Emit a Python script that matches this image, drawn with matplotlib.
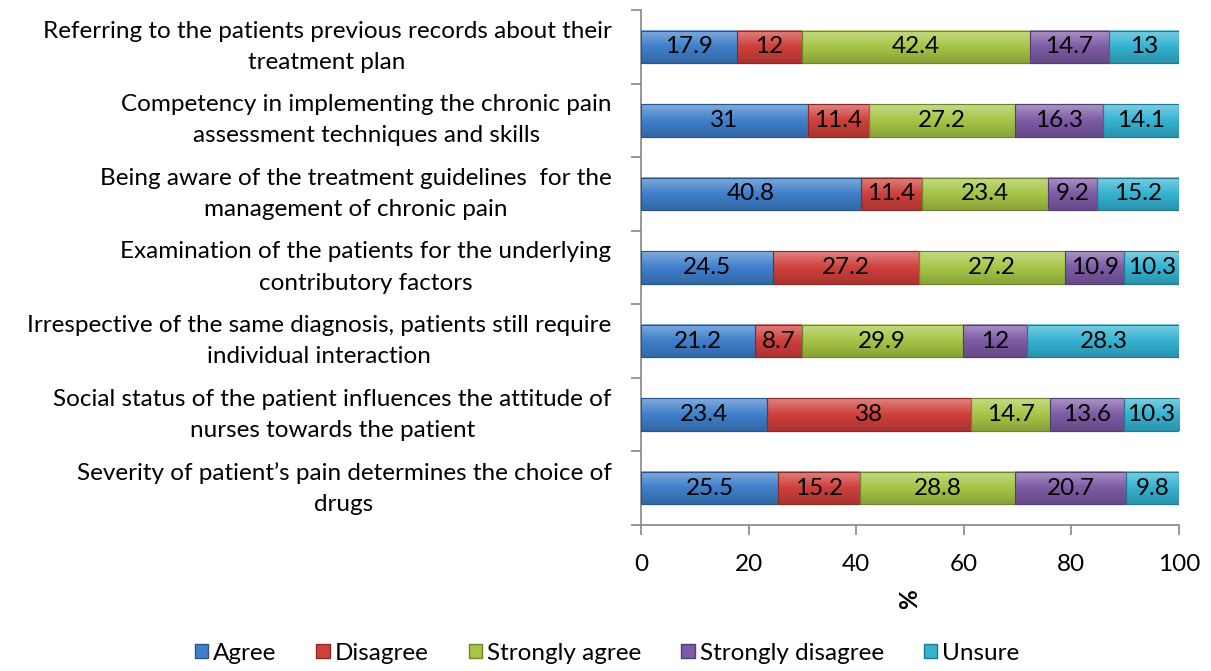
import numpy as np
import matplotlib
matplotlib.use("Agg")
import matplotlib.pyplot as plt
from matplotlib.colors import to_rgb
from matplotlib.patches import Patch

categories = [
    "Referring to the patients previous records about their\ntreatment plan",
    "Competency in implementing the chronic pain\nassessment techniques and skills",
    "Being aware of the treatment guidelines  for the\nmanagement of chronic pain",
    "Examination of the patients for the underlying\ncontributory factors",
    "Irrespective of the same diagnosis, patients still require\nindividual interaction",
    "Social status of the patient influences the attitude of\nnurses towards the patient",
    "Severity of patient\u2019s pain determines the choice of\ndrugs",
]
series_names = ["Agree", "Disagree", "Strongly agree", "Strongly disagree", "Unsure"]
agree = [17.9, 31, 40.8, 24.5, 21.2, 23.4, 25.5]
disagree = [12, 11.4, 11.4, 27.2, 8.7, 38, 15.2]
strongly_agree = [42.4, 27.2, 23.4, 27.2, 29.9, 14.7, 28.8]
strongly_disagree = [14.7, 16.3, 9.2, 10.9, 12, 13.6, 20.7]
unsure = [13, 14.1, 15.2, 10.3, 28.3, 10.3, 9.8]
xticks = [0, 20, 40, 60, 80, 100]

colors = ["#3f7fcb", "#cf403b", "#a6c646", "#7d5ba5", "#35b3d2"]
edges = ["#2a5588", "#8a2a27", "#6f8530", "#543d6f", "#237a8f"]

plt.rcParams['font.family'] = ['Lato', 'DejaVu Sans']
FS = 17.5

fig = plt.figure(figsize=(12.11, 6.71), dpi=100)
ax = fig.add_axes([641/1211, 1-525/671, 538/1211, 515/671])

y = np.arange(len(categories))
left = np.zeros(len(categories))
h = 0.44


def shade(c, f):
    r = np.array(to_rgb(c))
    if f > 0:
        return r + (1 - r) * f
    return r * (1 + f)


for vals, name, c, ec in zip([agree, disagree, strongly_agree, strongly_disagree, unsure],
                             series_names, colors, edges):
    bars = ax.barh(y, vals, left=left, height=h, color=c, edgecolor=ec, linewidth=0.8, zorder=2)
    for rect, v in zip(bars, vals):
        x0, y0 = rect.get_x(), rect.get_y()
        w, hh = rect.get_width(), rect.get_height()
        # vertical gradient for the bevel look
        t = np.linspace(0, 1, 32)
        grad = np.array([shade(c, 0.35 * (1 - 2 * s)) if s < 0.5 else shade(c, -0.18 * (2 * s - 1)) for s in t])
        ax.imshow(grad[:, None, :], extent=[x0, x0 + w, y0 + hh, y0], aspect='auto',
                  interpolation='bilinear', zorder=2.5, origin='upper')
        ax.add_patch(plt.Rectangle((x0, y0), w, hh, fill=False, edgecolor=ec, linewidth=0.8, zorder=3))
        lab = ("%g" % v)
        ax.text(x0 + w / 2, y0 + hh / 2, lab, ha='center', va='center', fontsize=FS, color='black', zorder=4)
    left = left + np.array(vals)

ax.set_xlim(0, 100)
ax.set_ylim(len(categories) - 0.5, -0.5)
ax.set_xticks(xticks)
ax.set_xticklabels([str(t) for t in xticks], fontsize=FS)
ax.set_yticks(np.arange(len(categories) + 1) - 0.5)
ax.set_yticklabels([])
for s in ['top', 'right']:
    ax.spines[s].set_visible(False)
for s in ['left', 'bottom']:
    ax.spines[s].set_color('#868686')
    ax.spines[s].set_linewidth(1.2)
ax.tick_params(axis='both', colors='#868686', length=7, width=1.2, labelcolor='black')
ax.tick_params(axis='x', pad=14)

for i, cat in enumerate(categories):
    ax.text(-5.5, i + 0.0, cat, ha='right', va='center', multialignment='center',
            fontsize=FS, linespacing=1.6)

ax.set_xlabel('%', fontsize=FS, fontweight='bold', rotation=90, labelpad=10)

handles = [Patch(facecolor=c, edgecolor=ec) for c, ec in zip(colors, edges)]
fig.legend(handles, series_names, loc='center', bbox_to_anchor=(607/1211, 1-653/671), ncol=5,
           frameon=False, fontsize=FS, handlelength=0.55, handleheight=0.55, handletextpad=0.2,
           columnspacing=1.65)

fig.savefig("out.png", dpi=100)
